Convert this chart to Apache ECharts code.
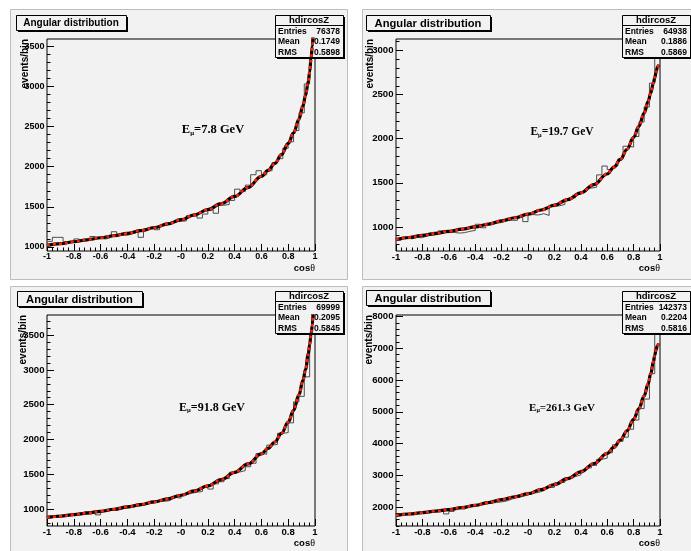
<!DOCTYPE html>
<html>
<head>
<meta charset="utf-8">
<script src="https://cdn.jsdelivr.net/npm/echarts@6/dist/echarts.min.js"></script>
<style>
html,body{margin:0;padding:0;background:#ffffff;}
#chart{width:691px;height:551px;}
</style>
</head>
<body>
<div id="chart"></div>
<script>
// ------------------- data -------------------
const xTickValues = [-1, -0.8, -0.6, -0.4, -0.2, 0, 0.2, 0.4, 0.6, 0.8, 1];
const xTickLabels = ['-1', '-0.8', '-0.6', '-0.4', '-0.2', '-0', '0.2', '0.4', '0.6', '0.8', '1'];

const yTicks1 = [1000, 1500, 2000, 2500, 3000, 3500];
const yTicks2 = [1000, 1500, 2000, 2500, 3000];
const yTicks3 = [1000, 1500, 2000, 2500, 3000, 3500];
const yTicks4 = [2000, 3000, 4000, 5000, 6000, 7000, 8000];

// histogram contents, 50 bins of width 0.04 from -1 to 1
const hist1 = [1070,1120,1120,1065,1070,1100,1070,1085,1130,1105,1100,1120,1190,1150,1145,1165,1185,1120,1225,1240,1215,1270,1285,1310,1320,1325,1390,1385,1360,1410,1460,1420,1520,1530,1580,1720,1690,1770,1900,1950,1900,1950,2050,2100,2230,2310,2450,2670,3030,3480];
const hist2 = [850,875,865,880,878,900,905,915,955,935,938,930,935,950,960,1030,990,1025,1040,1050,1070,1075,1075,1110,1060,1140,1135,1150,1130,1230,1240,1255,1300,1330,1370,1400,1440,1450,1590,1690,1650,1690,1770,1915,1905,2025,2190,2360,2630,2930];
const hist3 = [905,915,912,918,920,925,935,965,960,920,965,985,990,1005,1020,1030,1045,1060,1080,1095,1110,1115,1125,1170,1160,1210,1230,1245,1255,1320,1290,1365,1395,1440,1530,1535,1555,1610,1660,1800,1790,1920,1930,2090,2100,2240,2540,2620,2900,3900];
const hist4 = [1720,1750,1780,1795,1815,1830,1850,1870,1880,1780,1860,1960,1930,2020,2040,2075,2080,2120,2140,2160,2190,2250,2300,2330,2380,2430,2460,2510,2610,2620,2760,2780,2920,2960,3010,3160,3230,3310,3500,3540,3710,3960,4070,4200,4450,4740,5100,5400,6200,7500];

// fitted curves
const fitXA = [-1,-0.9,-0.8,-0.7,-0.6,-0.5,-0.4,-0.3,-0.2,-0.1,0,0.1,0.2,0.3,0.4,0.5,0.6,0.65,0.7,0.75,0.8,0.84,0.88,0.91,0.93,0.95,0.96,0.97,0.98,0.985];
const fitXB = [-1,-0.9,-0.8,-0.7,-0.6,-0.5,-0.4,-0.3,-0.2,-0.1,0,0.1,0.2,0.3,0.4,0.5,0.6,0.65,0.7,0.75,0.8,0.84,0.88,0.91,0.93,0.95,0.96,0.97,0.98,0.99];
const fit1 = [1020,1042,1065,1090,1115,1140,1170,1203,1240,1287,1340,1400,1465,1540,1630,1740,1880,1955,2040,2150,2290,2420,2590,2760,2890,3060,3180,3340,3500,3620];
const fit2 = [856,880,905,927,950,974,1000,1032,1068,1104,1144,1192,1246,1310,1386,1480,1600,1675,1765,1880,2015,2140,2290,2420,2520,2630,2690,2750,2810,2840];
const fit3 = [880,900,923,946,971,1000,1033,1067,1105,1150,1201,1263,1335,1425,1530,1650,1795,1875,1965,2090,2250,2420,2640,2850,3010,3230,3360,3500,3640,3800];
const fit4 = [1737,1778,1821,1866,1916,1980,2053,2140,2232,2322,2421,2550,2705,2890,3105,3370,3690,3880,4110,4400,4760,5100,5500,5880,6200,6580,6780,6950,7080,7150];

const histName = 'hdircosZ';
const entries = ['76378', '64938', '69999', '142373'];
const means = ['0.1749', '0.1886', '0.2095', '0.2204'];
const rmsVals = ['0.5898', '0.5869', '0.5845', '0.5816'];
const energies = ['7.8', '19.7', '91.8', '261.3'];
const titleText = 'Angular distribution';
const yTitleText = 'events/bin';

// ------------------- layout -------------------
const SANS = '"Liberation Sans", Arial, Helvetica, sans-serif';
const SERIF = '"Liberation Serif", "Times New Roman", serif';

const panels = [
  {hist: hist1, fitX: fitXA, fit: fit1, yTicks: yTicks1, yMin: 950, yMax: 3590, minorStep: 100,
   pad: [10, 9, 337, 270], grid: [47, 39, 268, 212], title: [16, 15, 110, 15], titleFont: 10,
   stats: [275, 15, 68, 42], tickFont: 9, yTitleX: 25, eText: [213, 130], eFont: 12.5, xLabMargin: 1},
  {hist: hist2, fitX: fitXB, fit: fit2, yTicks: yTicks2, yMin: 727, yMax: 3130, minorStep: 100,
   pad: [362, 9, 335, 270], grid: [396, 39, 264, 212], title: [366, 15, 124, 15], titleFont: 11.2,
   stats: [622, 15, 68, 42], tickFont: 9.6, yTitleX: 370, eText: [562, 132], eFont: 11.5, xLabMargin: 1},
  {hist: hist3, fitX: fitXA, fit: fit3, yTicks: yTicks3, yMin: 760, yMax: 3787, minorStep: 100,
   pad: [10, 286, 337, 270], grid: [47, 315, 268, 211], title: [17, 291, 125, 15], titleFont: 11.2,
   stats: [275, 291, 68, 42], tickFont: 9.6, yTitleX: 23, eText: [212, 408], eFont: 12, xLabMargin: 1.5},
  {hist: hist4, fitX: fitXB, fit: fit4, yTicks: yTicks4, yMin: 1400, yMax: 8050, minorStep: 200,
   pad: [362, 286, 335, 270], grid: [396, 315, 264, 211], title: [366, 290, 124, 15], titleFont: 11.2,
   stats: [622, 291, 68, 42], tickFont: 9.6, yTitleX: 369, eText: [562, 408], eFont: 11, xLabMargin: 1.5}
];

const binEdges = Array.from({length: 51}, (_, k) => Math.round((-1 + k * 0.04) * 100) / 100);
const xMinor = binEdges.slice();
function minorVals(a, b, step) {
  const out = [];
  for (let v = Math.ceil(a / step) * step; v <= b; v += step) out.push(v);
  return out;
}

const grids = [], xAxes = [], yAxes = [], series = [], graphics = [];
const noLine = {show: false, onZero: false};

panels.forEach((P, i) => {
  const [gl, gt, gw, gh] = P.grid;
  grids.push({left: gl, top: gt, width: gw, height: gh, show: true, borderColor: '#000', borderWidth: 1,
              backgroundColor: 'rgba(0,0,0,0)', containLabel: false, outerBoundsMode: 'none'});
  const labelStyle = {fontSize: P.tickFont, fontWeight: 'bold', fontFamily: SANS, color: '#000'};
  xAxes.push({type: 'value', gridIndex: i, position: 'bottom', min: -1, max: 1,
    axisLine: noLine, splitLine: {show: false},
    axisTick: {show: true, inside: true, length: 7, customValues: xTickValues, lineStyle: {color: '#000', width: 1}},
    axisLabel: Object.assign({show: true, margin: P.xLabMargin, customValues: xTickValues,
      formatter: v => { const k = xTickValues.findIndex(t => Math.abs(t - v) < 1e-6); return k >= 0 ? xTickLabels[k] : ''; }}, labelStyle)});
  xAxes.push({type: 'value', gridIndex: i, position: 'bottom', min: -1, max: 1,
    axisLine: noLine, splitLine: {show: false}, axisLabel: {show: false},
    axisTick: {show: true, inside: true, length: 3.5, customValues: xMinor, lineStyle: {color: '#000', width: 1}}});
  yAxes.push({type: 'value', gridIndex: i, position: 'left', min: P.yMin, max: P.yMax,
    axisLine: noLine, splitLine: {show: false},
    axisTick: {show: true, inside: true, length: 7, customValues: P.yTicks, lineStyle: {color: '#000', width: 1}},
    axisLabel: Object.assign({show: true, margin: 2.5, customValues: P.yTicks, formatter: v => String(v)}, labelStyle)});
  yAxes.push({type: 'value', gridIndex: i, position: 'left', min: P.yMin, max: P.yMax,
    axisLine: noLine, splitLine: {show: false}, axisLabel: {show: false},
    axisTick: {show: true, inside: true, length: 3.5, customValues: minorVals(P.yMin, P.yMax, P.minorStep), lineStyle: {color: '#000', width: 1}}});

  series.push({type: 'line', xAxisIndex: 2 * i, yAxisIndex: 2 * i, step: 'end', symbol: 'none', silent: true,
    data: binEdges.map((e, k) => [e, P.hist[Math.min(k, 49)]]),
    lineStyle: {color: '#4d4d4d', width: 1}, z: 2, animation: false});
  const fitData = P.fitX.map((x, k) => [x, P.fit[k]]);
  series.push({type: 'line', xAxisIndex: 2 * i, yAxisIndex: 2 * i, smooth: 0.4, smoothMonotone: 'x', symbol: 'none', silent: true,
    data: fitData, lineStyle: {color: '#000', width: 3.2}, z: 4, animation: false});
  series.push({type: 'line', xAxisIndex: 2 * i, yAxisIndex: 2 * i, smooth: 0.4, smoothMonotone: 'x', symbol: 'none', silent: true,
    data: fitData, lineStyle: {color: '#ff2200', width: 2.6, type: [3, 3]}, z: 5, animation: false});

  // pad background
  const [px, py, pw, ph] = P.pad;
  graphics.push({type: 'rect', silent: true, z: -10, shape: {x: px + 0.5, y: py + 0.5, width: pw, height: ph},
    style: {fill: '#f2f2f2', stroke: '#bdbdbd', lineWidth: 1}});
  // title box
  const [tx, ty, tw, th] = P.title;
  graphics.push({type: 'rect', silent: true, z: 3, shape: {x: tx + 2, y: ty + 2, width: tw, height: th}, style: {fill: '#000'}});
  graphics.push({type: 'rect', silent: true, z: 3.1, shape: {x: tx + 0.5, y: ty + 0.5, width: tw, height: th},
    style: {fill: '#f2f2f2', stroke: '#000', lineWidth: 1}});
  graphics.push({type: 'text', silent: true, z: 3.2, style: {x: tx + tw / 2, y: ty + th / 2 + 1, text: titleText,
    fontSize: P.titleFont, fontWeight: 'bold', fontFamily: SANS, fill: '#000', align: 'center', verticalAlign: 'middle'}});
  // stats box
  const [sx, sy, sw, sh] = P.stats;
  graphics.push({type: 'rect', silent: true, z: 3, shape: {x: sx + 2, y: sy + 2, width: sw, height: sh}, style: {fill: '#000'}});
  graphics.push({type: 'rect', silent: true, z: 3.1, shape: {x: sx + 0.5, y: sy + 0.5, width: sw, height: sh},
    style: {fill: '#f2f2f2', stroke: '#000', lineWidth: 1}});
  graphics.push({type: 'line', silent: true, z: 3.2, shape: {x1: sx, y1: sy + 10.5, x2: sx + sw, y2: sy + 10.5},
    style: {stroke: '#000', lineWidth: 1}});
  graphics.push({type: 'text', silent: true, z: 3.2, style: {x: sx + sw / 2, y: sy + 5.8, text: histName,
    fontSize: 9.5, fontWeight: 'bold', fontFamily: SANS, fill: '#000', align: 'center', verticalAlign: 'middle'}});
  const rows = [['Entries', entries[i]], ['Mean', means[i]], ['RMS', rmsVals[i]]];
  rows.forEach((r, k) => {
    const ry = sy + 16.5 + k * 10.5;
    graphics.push({type: 'text', silent: true, z: 3.2, style: {x: sx + 3, y: ry, text: r[0],
      fontSize: 8.5, fontWeight: 'bold', fontFamily: SANS, fill: '#000', align: 'left', verticalAlign: 'middle'}});
    graphics.push({type: 'text', silent: true, z: 3.2, style: {x: sx + sw - 3, y: ry, text: r[1],
      fontSize: 8.5, fontWeight: 'bold', fontFamily: SANS, fill: '#000', align: 'right', verticalAlign: 'middle'}});
  });
  // y axis title
  graphics.push({type: 'text', silent: true, z: 3, x: P.yTitleX, y: gt, rotation: Math.PI / 2,
    style: {x: 0, y: 0, text: yTitleText, fontSize: 10, fontWeight: 'bold', fontFamily: SANS, fill: '#000',
      align: 'right', verticalAlign: 'middle'}});
  // x axis title
  graphics.push({type: 'text', silent: true, z: 3, style: {x: gl + gw, y: gt + gh + 17.5,
    text: '{c|cos}{t|θ}', align: 'right', verticalAlign: 'middle',
    rich: {c: {fontSize: 9.5, fontWeight: 'bold', fontFamily: SANS, fill: '#000'},
           t: {fontSize: 10, fontWeight: 'normal', fontFamily: SERIF, fill: '#000'}}}});
  // energy label
  graphics.push({type: 'text', silent: true, z: 3, style: {x: P.eText[0], y: P.eText[1],
    text: '{e|E}{m|μ}{e|=' + energies[i] + ' GeV}', align: 'center', verticalAlign: 'middle',
    rich: {e: {fontSize: P.eFont, fontWeight: 'bold', fontFamily: SERIF, fill: '#000', verticalAlign: 'middle'},
           m: {fontSize: P.eFont * 0.55, fontWeight: 'bold', fontFamily: SERIF, fill: '#000', verticalAlign: 'bottom', lineHeight: P.eFont * 0.55}}}});
});

const chart = echarts.init(document.getElementById('chart'), null, {renderer: 'canvas'});
chart.setOption({
  animation: false,
  backgroundColor: '#ffffff',
  grid: grids,
  xAxis: xAxes,
  yAxis: yAxes,
  series: series,
  graphic: {elements: graphics}
});
</script>
</body>
</html>
